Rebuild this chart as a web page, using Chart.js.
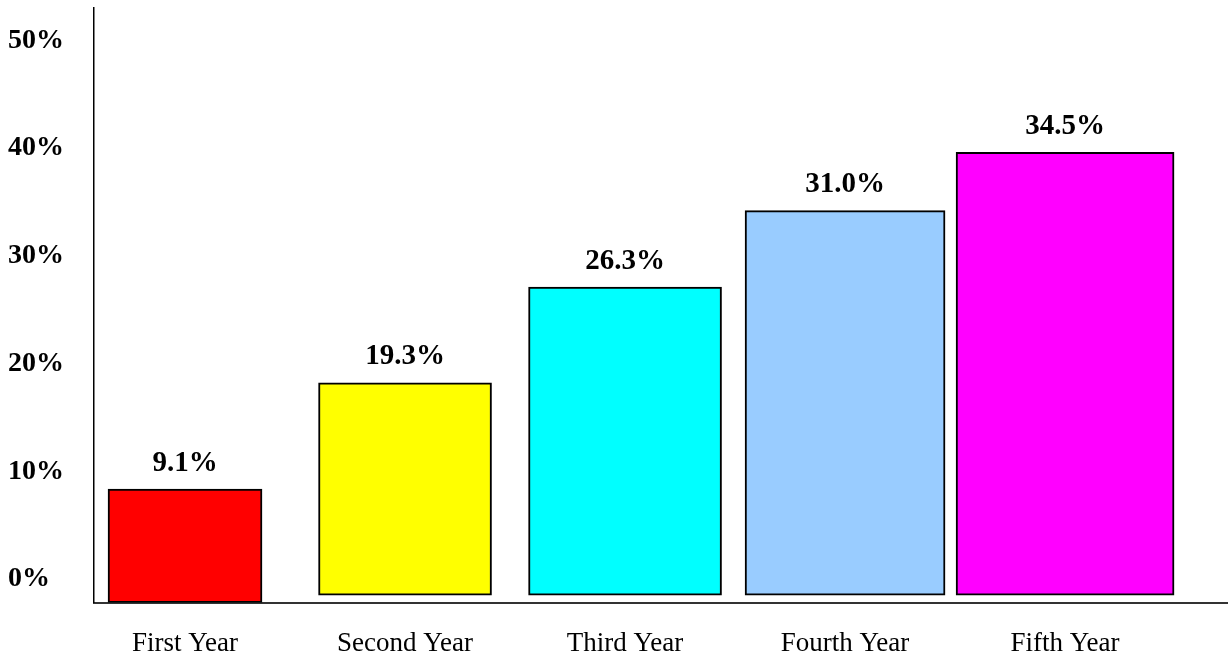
<!DOCTYPE html>
<html>
<head>
<meta charset="utf-8">
<script src="https://cdn.jsdelivr.net/npm/chart.js@4.4.1/dist/chart.umd.min.js"></script>
<style>
  html, body { margin: 0; padding: 0; background: #fff; }
  #wrap { width: 1230px; height: 660px; }
</style>
</head>
<body>
<div id="wrap"><canvas id="chart"></canvas></div>
<script>
(() => {
    // categories along the bottom
    const years = ['First Year', 'Second Year', 'Third Year', 'Fourth Year', 'Fifth Year'];
    // printed value labels above each bar
    const shareLabels = ['9.1%', '19.3%', '26.3%', '31.0%', '34.5%'];
    // bar extents as read against the left axis (percent)
    const barTops = [8.35, 18.2, 27.1, 34.2, 39.6];
    const barBases = [-2.2, -1.5, -1.5, -1.5, -1.5];
    // left axis tick values
    const yTicks = [0, 10, 20, 30, 40, 50];

    const colors = ['#ff0000', '#ffff00', '#00ffff', '#99ccff', '#ff00ff'];
    const barWidths = [154, 173, 193, 200, 218];
    const SERIF = "'Liberation Serif', 'Times New Roman', serif";

    // one dataset per bar, so each can keep its own width
    const datasets = years.map((name, i) => ({
        label: name,
        data: [{ x: i, y: [barBases[i], barTops[i]] }],
        backgroundColor: colors[i],
        borderColor: '#000',
        borderWidth: 2,
        borderSkipped: false,
        barThickness: barWidths[i],
        grouped: false
    }));

    const valueLabels = {
        id: 'valueLabels',
        afterDatasetsDraw(chart) {
            const ctx = chart.ctx;
            ctx.save();
            ctx.font = `bold 29px ${SERIF}`;
            ctx.fillStyle = '#000';
            ctx.textAlign = 'center';
            ctx.textBaseline = 'middle';
            chart.data.datasets.forEach((ds, i) => {
                const bar = chart.getDatasetMeta(i).data[0];
                if (!bar) return;
                ctx.fillText(shareLabels[i], bar.x, bar.y - 26);
            });
            ctx.restore();
        }
    };

    new Chart(document.getElementById('chart').getContext('2d'), {
        type: 'bar',
        data: { datasets },
        options: {
            responsive: true,
            maintainAspectRatio: false,
            animation: false,
            layout: { padding: { left: 8, top: 8, right: 3, bottom: 0 } },
            plugins: { legend: { display: false }, tooltip: { enabled: false } },
            scales: {
                x: {
                    type: 'linear',
                    offset: false,
                    min: -0.416,
                    max: 4.736,
                    afterFit: (scale) => {
                        scale.height = 57.5;
                        scale.paddingLeft = 0;
                        scale.paddingRight = 0;
                    },
                    grid: { display: false, drawTicks: false },
                    border: { display: true, color: '#333', width: 2 },
                    ticks: {
                        stepSize: 1,
                        includeBounds: false,
                        padding: 25,
                        color: '#000',
                        font: { family: SERIF, size: 27 },
                        callback: (v) => Number.isInteger(v) ? years[v] : ''
                    }
                },
                y: {
                    min: -2.18,
                    max: 53,
                    afterFit: (scale) => {
                        scale.width = 85.5;
                        scale.paddingTop = 0;
                        scale.paddingBottom = 0;
                    },
                    afterBuildTicks: (scale) => { scale.ticks = yTicks.map(v => ({ value: v })); },
                    grid: { display: false, drawTicks: false },
                    border: { display: true, color: '#000', width: 1.5 },
                    ticks: {
                        crossAlign: 'far',
                        color: '#000',
                        font: { family: SERIF, size: 28, weight: 'bold' },
                        callback: (v) => v + '%'
                    }
                }
            }
        },
        plugins: [valueLabels]
    });
})();
</script>
</body>
</html>
